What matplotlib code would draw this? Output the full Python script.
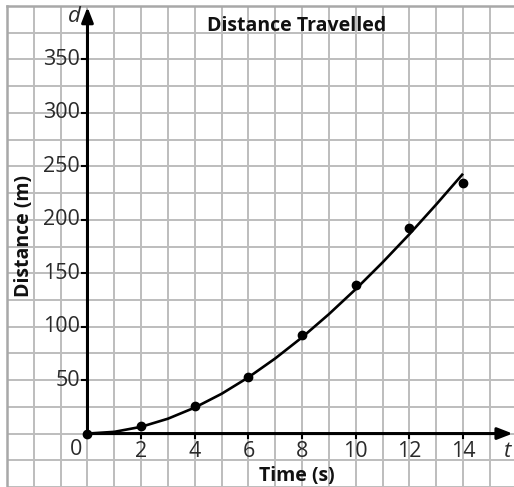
import matplotlib
matplotlib.use("Agg")
import matplotlib.pyplot as plt

# data
t_points = [0, 2, 4, 6, 8, 10, 12, 14]
d_points = [0, 7, 25.5, 52.6, 92.4, 139.4, 192.4, 234.3]

t_curve = [0, 1, 2, 3, 4, 5, 6, 7, 8, 9, 10, 11, 12, 13, 14]
d_curve = [0, 1.6, 6.3, 13.9, 24.3, 37.2, 52.6, 70.3, 90, 111.7, 135.1, 160.1, 186.5, 214.3, 243.1]

x_ticks = [2, 4, 6, 8, 10, 12, 14]
y_ticks = [50, 100, 150, 200, 250, 300, 350]

title = "Distance Travelled"
x_label = "Time (s)"
y_label = "Distance (m)"

FONT = "Open Sans"
TXT = "#2a2a2a"

fig = plt.figure(figsize=(5.14, 4.87), dpi=100)
ax = fig.add_axes([7/514, 0, 1 - 7/514, 481/487])
ax.set_xlim(-3, 15.9)
ax.set_ylim(-50, 400)

ax.set_xticks(range(-3, 16))
ax.set_yticks(range(-50, 401, 25))
ax.grid(True, color="#bdbdbd", linewidth=1.4)
ax.tick_params(length=0, labelbottom=False, labelleft=False)
for s in ["right", "bottom"]:
    ax.spines[s].set_visible(False)
for s in ["left", "top"]:
    ax.spines[s].set_color("#a8a8a8")
    ax.spines[s].set_linewidth(1.8)

# axes with arrows
ax.annotate("", xy=(15.85, 0), xytext=(0, 0),
            arrowprops=dict(arrowstyle="-|>,head_length=0.9,head_width=0.35", color="black", lw=2.2,
                            shrinkA=0, shrinkB=0), zorder=5)
ax.annotate("", xy=(0, 399), xytext=(0, 0),
            arrowprops=dict(arrowstyle="-|>,head_length=0.9,head_width=0.35", color="black", lw=2.2,
                            shrinkA=0, shrinkB=0), zorder=5)

# tick marks and labels
for v in y_ticks:
    ax.plot([-0.2, 0], [v, v], color="black", lw=1.5, zorder=5)
    ax.text(-0.28, v, str(v), ha="right", va="center", fontsize=15.5, family=FONT, color=TXT)
for v in x_ticks:
    ax.plot([v, v], [0, -4], color="black", lw=1.5, zorder=5)
    ax.text(v, -7, str(v), ha="center", va="top", fontsize=15.5, family=FONT, color=TXT)
ax.text(-0.2, -5, "0", ha="right", va="top", fontsize=15.5, family=FONT, color=TXT)

ax.text(15.65, -7, "t", ha="center", va="top", fontsize=16, family=FONT, style="italic", color=TXT)
ax.text(-0.5, 390, "d", ha="center", va="center", fontsize=16, family=FONT, style="italic", color=TXT)

ax.plot(t_curve, d_curve, color="black", lw=1.9, zorder=6, solid_capstyle="butt")
ax.plot(t_points, d_points, "o", color="black", markersize=6, zorder=7)

ax.text(7.8, 381, title, ha="center", va="center", fontsize=14, family=FONT,
        fontweight="bold", color="#111111")
ax.text(7.8, -40, x_label, ha="center", va="center", fontsize=14, family=FONT,
        fontweight="bold", color="#111111")
ax.text(-2.35, 185, y_label, ha="center", va="center", rotation=90, fontsize=14, family=FONT,
        fontweight="bold", color="#111111")

fig.savefig("out.png", dpi=100)
